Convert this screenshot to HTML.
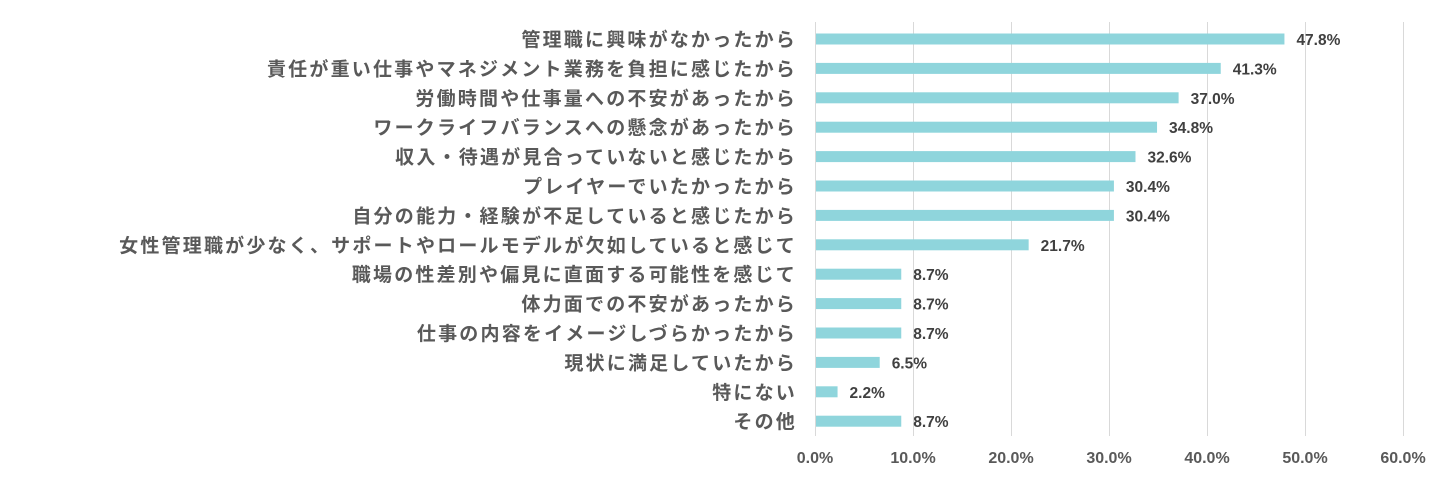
<!DOCTYPE html>
<html><head><meta charset="utf-8"><style>
body{margin:0;background:#fff;width:1440px;height:486px;overflow:hidden}
svg text{font-family:"Liberation Sans","Noto Sans CJK JP",sans-serif;font-weight:bold}
</style></head><body>
<svg width="1440" height="486" xmlns="http://www.w3.org/2000/svg">
<g stroke="#d9d9d9" stroke-width="1">
<line x1="815.5" y1="22" x2="815.5" y2="436"/><line x1="913.5" y1="22" x2="913.5" y2="436"/><line x1="1011.5" y1="22" x2="1011.5" y2="436"/><line x1="1109.5" y1="22" x2="1109.5" y2="436"/><line x1="1207.5" y1="22" x2="1207.5" y2="436"/><line x1="1305.5" y1="22" x2="1305.5" y2="436"/><line x1="1403.5" y1="22" x2="1403.5" y2="436"/>
</g>
<g id="rows"></g>
<g font-size="16" fill="#595959" text-anchor="middle">
<text x="815" y="463">0.0%</text><text x="913" y="463">10.0%</text><text x="1011" y="463">20.0%</text><text x="1109" y="463">30.0%</text><text x="1207" y="463">40.0%</text><text x="1305" y="463">50.0%</text><text x="1403" y="463">60.0%</text>
</g>
</svg>
<script>
var d=[["管理職に興味がなかったから",47.8],["責任が重い仕事やマネジメント業務を負担に感じたから",41.3],["労働時間や仕事量への不安があったから",37.0],["ワークライフバランスへの懸念があったから",34.8],["収入・待遇が見合っていないと感じたから",32.6],["プレイヤーでいたかったから",30.4],["自分の能力・経験が不足していると感じたから",30.4],["女性管理職が少なく、サポートやロールモデルが欠如していると感じて",21.7],["職場の性差別や偏見に直面する可能性を感じて",8.7],["体力面での不安があったから",8.7],["仕事の内容をイメージしづらかったから",8.7],["現状に満足していたから",6.5],["特にない",2.2],["その他",8.7]];
var g=document.getElementById('rows'),s='';
d.forEach(function(r,i){var c=39+i*29.4,w=r[1]*9.8;
s+='<rect x="816" y="'+(c-5.5)+'" width="'+w+'" height="11" fill="#8fd5dc"/>';
s+='<text x="797" y="'+(c+7)+'" font-size="19" fill="#595959" text-anchor="end" letter-spacing="2.2">'+r[0]+'</text>';
s+='<text x="'+(816+w+12)+'" y="'+(c+6)+'" font-size="15.5" fill="#404040">'+r[1].toFixed(1)+'%</text>';});
g.innerHTML=s;
</script>
</body></html>
